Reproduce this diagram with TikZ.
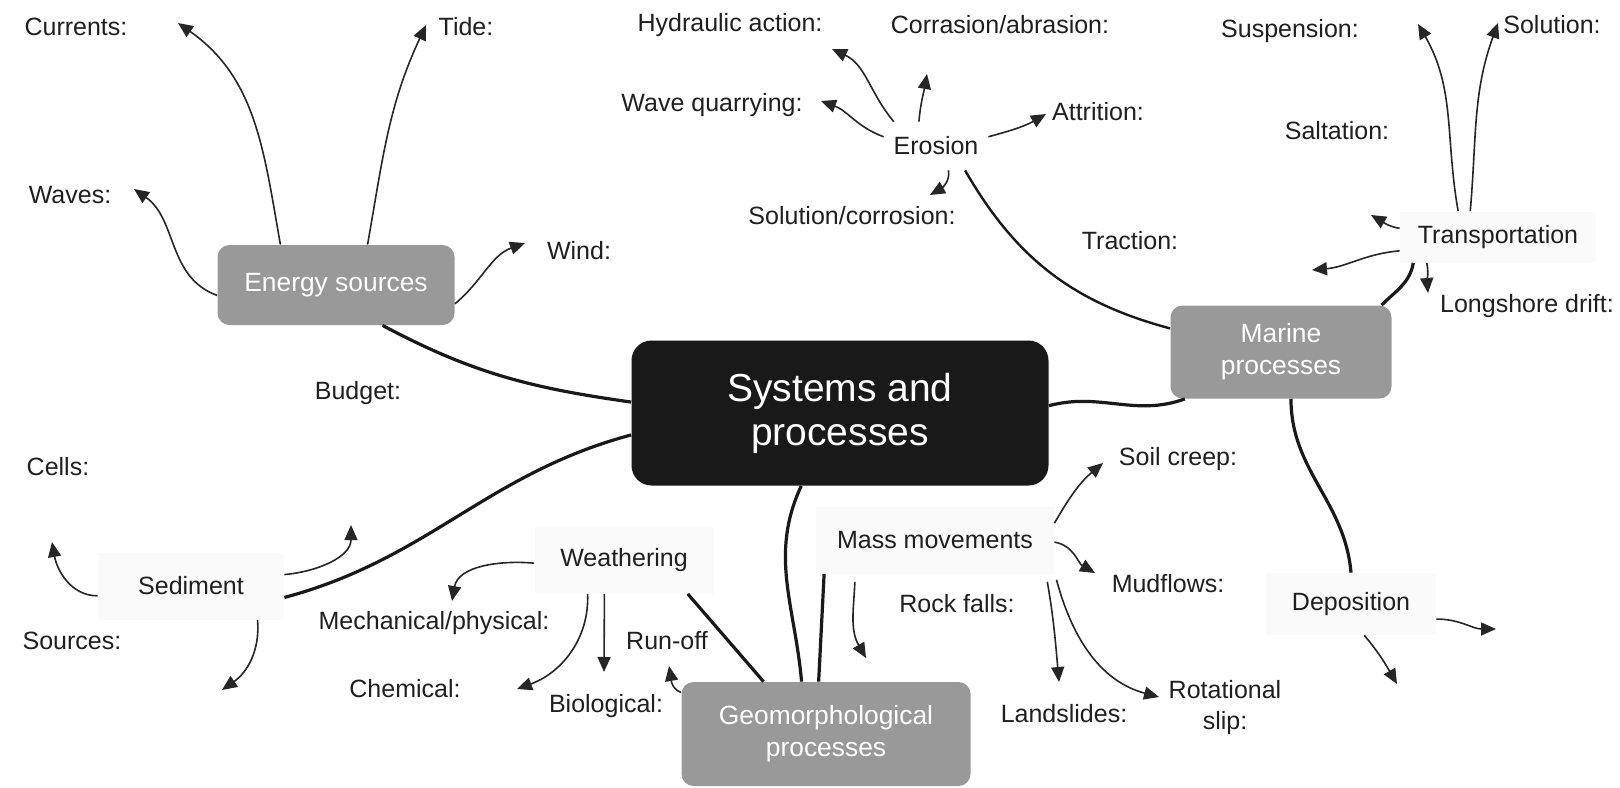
\documentclass[tikz,border=0pt]{standalone}
\usepackage{fontspec}
\setmainfont{Liberation Sans}
\usetikzlibrary{arrows.meta}
\begin{document}
\begin{tikzpicture}[x=0.5pt,y=-0.5pt,>={Triangle[length=7.5pt,width=6.5pt]},
    lbl/.style={text=black!88,font=\fontsize{12.5}{15.5}\selectfont,align=center},
    proc/.style={lbl,fill=black!2,inner sep=0pt},
    topic/.style={fill=black!40,text=white,rounded corners=6pt,align=center,inner sep=0pt,font=\fontsize{13.2}{16}\selectfont},
    branch/.style={line width=1.6pt,black!90},
    arr/.style={->,line width=0.8pt,black!85}]
  \useasboundingbox (0,0) rectangle (1620,787);
  \path (840,413) node [topic,fill=black!90,rounded corners=10pt,minimum width=208.5pt,minimum height=72.5pt,font=\fontsize{19.5}{22}\selectfont](central){Systems and\\processes};
  \path (336,285) node [topic,minimum width=118.5pt,minimum height=40pt](energy){Energy sources}
        (1281,352) node [topic,minimum width=110.5pt,minimum height=46.5pt](marine){Marine\\processes}
        (826,734) node [topic,minimum width=144.5pt,minimum height=52pt](geomorph){Geomorphological\\processes};
  \path (1498,237) node [proc,minimum width=98pt,minimum height=25.5pt](transport){Transportation}
        (1351,604) node [proc,minimum width=85pt,minimum height=31pt](deposition){Deposition}
        (935,540) node [proc,minimum width=119pt,minimum height=33.5pt](massmov){Mass movements}
        (624,560) node [proc,minimum width=89.5pt,minimum height=33.5pt](weathering){Weathering}
        (191,586) node [proc,minimum width=93pt,minimum height=33.5pt](sediment){Sediment}
        (936,146) node [lbl,minimum width=52pt,minimum height=24pt](erosion){Erosion};
  \path (76,27) node [lbl](currents){Currents:}
        (466,27) node [lbl](tide){Tide:}
        (70,195) node [lbl](waves){Waves:}
        (579,251) node [lbl](wind){Wind:}
        (358,393) node [lbl](budget){Budget:}
        (58,467) node [lbl](cells){Cells:}
        (72,641) node [lbl](sources){Sources:}
        (730,25) node [lbl](hydraulic){Hydraulic action:}
        (1000,25) node [lbl](corrasion){Corrasion/abrasion:}
        (712,105) node [lbl](wavequarry){Wave quarrying:}
        (1098,112) node [lbl](attrition){Attrition:}
        (852,216) node [lbl](solcorr){Solution/corrosion:}
        (1130,241) node [lbl](traction){Traction:}
        (1290,31) node [lbl](suspension){Suspension:}
        (1552,25) node [lbl](solution){Solution:}
        (1337,131) node [lbl](saltation){Saltation:}
        (1527,306) node [lbl](longshore){Longshore drift:}
        (1178,459) node [lbl](soilcreep){Soil creep:}
        (1168,584) node [lbl](mudflows){Mudflows:}
        (957,604) node [lbl](rockfalls){Rock falls:}
        (1064,714) node [lbl](landslides){Landslides:}
        (1225,708) node [lbl](rotational){Rotational\\slip:}
        (434,623) node [lbl](mechanical){Mechanical/physical:}
        (405,689) node [lbl](chemical){Chemical:}
        (606,706) node [lbl](biological){Biological:}
        (667,641) node [lbl](runoff){Run-off};
  \path (178,23) coordinate (tcurrents) (426,25) coordinate (ttide)
        (134,189) coordinate (twaves) (525,243) coordinate (twind)
        (832,49) coordinate (thydraulic) (927,74) coordinate (tcorrasion)
        (821,101) coordinate (twavequarry) (1046,114) coordinate (tattrition)
        (930,195) coordinate (tsolcorr) (1418,24) coordinate (tsuspension)
        (1498,23) coordinate (tsolution) (1371,215) coordinate (tsaltation)
        (1312,270) coordinate (ttraction) (1428,293) coordinate (tlongshore)
        (1496,629) coordinate (tdepright) (1397,684) coordinate (tdepdown)
        (1103,463) coordinate (tsoilcreep) (1095,573) coordinate (tmudflows)
        (866,658) coordinate (trockfalls) (1059,682) coordinate (tlandslides)
        (1159,697) coordinate (trotational) (452,601) coordinate (tmechanical)
        (517,689) coordinate (tchemical) (604,672) coordinate (tbiological)
        (669,666) coordinate (trunoff) (52,542) coordinate (tcells)
        (351,525) coordinate (tbudget) (222,690) coordinate (tsources);
  \draw[branch] (energy.-41) to[out=-28,in=172] (central.177);
  \draw[branch] (central.2) to[out=15,in=200] (marine.206);
  \draw[branch,line width=1.2pt] (erosion.-40) to[out=-60,in=165] (marine.168);
  \draw[branch] (transport.197) to[out=-100,in=45] (marine.25);
  \draw[branch] (marine.-78) to[out=-90,in=95] (deposition.north);
  \draw[branch] (central.186) to[out=195,in=15] (sediment.-7);
  \draw[branch] (central.242) to[out=-115,in=95] (geomorph.115);
  \draw[branch] (massmov.197) -- (geomorph.98);
  \draw[branch] (weathering.-28) -- (geomorph.140);
  \draw[arr] (energy.144) to[out=100,in=-35] (tcurrents);
  \draw[arr] (energy.52) to[out=80,in=-115] (ttide);
  \draw[arr] (energy.185) to[out=160,in=-35] (twaves);
  \draw[arr] (energy.-9.5) to[out=40,in=200] (twind);
  \draw[arr] (erosion.150) to[out=130,in=-25] (thydraulic);
  \draw[arr] (erosion.125) to[out=85,in=-100] (tcorrasion);
  \draw[arr] (erosion.170) to[out=160,in=-20] (twavequarry);
  \draw[arr] (erosion.10) to[out=15,in=210] (tattrition);
  \draw[arr] (erosion.-63) to[out=-80,in=30] (tsolcorr);
  \draw[arr] (transport.147) to[out=100,in=-60] (tsuspension);
  \draw[arr] (transport.137) to[out=85,in=-110] (tsolution);
  \draw[arr] (transport.175) to[out=170,in=-30] (tsaltation);
  \draw[arr] (transport.188) to[out=185,in=5] (ttraction);
  \draw[arr] (transport.200) to[out=-80,in=95] (tlongshore);
  \draw[arr] (deposition.-10) to[out=0,in=180] (tdepright);
  \draw[arr] (deposition.-67) to[out=-50,in=120] (tdepdown);
  \draw[arr] (massmov.8) to[out=60,in=-140] (tsoilcreep);
  \draw[arr] (massmov.-1) to[out=-10,in=150] (tmudflows);
  \draw[arr,shorten <=4pt] (massmov.203) to[out=-92,in=120] (trockfalls);
  \draw[arr,shorten <=4pt] (massmov.-17) to[out=-80,in=95] (tlandslides);
  \draw[arr,shorten <=4pt] (massmov.-15) to[out=-75,in=165] (trotational);
  \draw[arr] (weathering.182) to[out=175,in=80] (tmechanical);
  \draw[arr] (weathering.223) to[out=-88,in=20] (tchemical);
  \draw[arr] (weathering.240) -- (tbiological);
  \draw[arr] (geomorph.164) to[out=160,in=-80] (trunoff);
  \draw[arr] (sediment.186) to[out=180,in=-80] (tcells);
  \draw[arr] (sediment.7) to[out=5,in=-90] (tbudget);
  \draw[arr] (sediment.-27) to[out=-85,in=35] (tsources);
\end{tikzpicture}
\end{document}
